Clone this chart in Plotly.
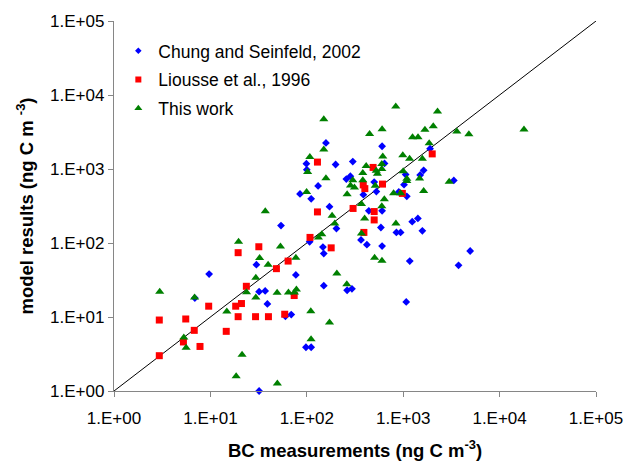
import plotly.graph_objects as go

# ---- data ----
chung_x = [9.7, 6.9, 30, 32, 37, 39, 32, 54, 60, 69, 77, 98, 111, 85, 99, 100, 111, 107, 131, 147,
           150, 150, 158, 172, 199, 203, 257, 283, 300, 262, 294, 365, 386, 420, 440, 500, 527, 604,
           587, 604, 604, 640, 850, 940, 1020, 1090, 1060, 1075, 1170, 1240, 1420, 1580, 1500, 1630,
           1900, 3350, 3750, 4950, 900]
chung_y = [38, 18, 51, 22, 22.5, 15, 1.0, 172, 10.2, 10.8, 37, 3.9, 3.9, 460, 1180, 980, 395, 104, 590, 88,
           72, 26.5, 2250, 310, 1150, 157, 730, 800, 1260, 23, 24, 110, 450, 95, 272, 665, 495, 2030,
           162, 91, 272, 1190, 139, 139, 614, 427, 840, 16, 57, 194, 215, 146, 830, 960,
           1880, 700, 50, 78, 490]

liousse_x = [2.95, 2.95, 5.55, 5.25, 6.8, 7.8, 9.6, 14.6, 18.3, 19.4, 19.4, 21, 23.6, 29.4, 31.8, 40,
             48.4, 59, 64, 74, 108, 129, 129, 179, 302, 385, 400, 391, 500, 500, 487, 610, 980, 2000]
liousse_y = [9.1, 3.0, 9.4, 4.6, 6.6, 4.0, 14, 6.4, 14, 74, 10.1, 15.2, 26, 10.1, 89, 10.1,
             45, 10.9, 57, 19.5, 119, 1240, 263, 86, 293, 610, 543, 139, 266, 205, 1050, 625, 468, 1600]

thiswork_x = [2.98, 5.3, 5.6, 6.85, 14.8, 18.5, 19.6, 21.3, 23.7, 29.6, 29.6, 32.4, 37.1, 39.7, 49.5,
              49.2, 53.3, 64.5, 74.5, 78, 77, 99.5, 102, 107.5, 110, 110.7, 132, 143, 150, 150, 158,
              172, 183, 195, 205, 260, 262, 284, 300, 312, 369, 369, 381, 381, 398, 413, 448, 505,
              525, 540, 513, 600, 604, 602, 614, 600, 637, 795, 837, 840, 940, 990, 1000, 1090,
              1165, 1250, 1425, 1480, 1580, 1630, 1680, 1860, 2050, 2270, 3600, 3000, 4800, 17900,
              600, 1090]
thiswork_y = [22, 5.3, 3.85, 18.3, 11.9, 1.58, 104, 3.1, 21.6, 33.8, 18.4, 62.5, 268, 51, 1.26,
              21.2, 90, 21.5, 21.5, 23.5, 63, 489, 911, 1450, 12, 5.0, 119, 131, 4700, 1840, 752,
              8.4, 234, 183, 38.8, 27.6, 455, 600, 703, 561, 336, 134, 883, 703, 214, 1100, 2970, 63,
              950, 865, 596, 315, 3450, 57.5, 1480, 1170, 390, 472, 7000, 184, 472, 1530, 935, 690,
              1380, 2680, 2680, 745, 1375, 505, 3400, 2230, 3780, 6000, 3200, 670, 2950, 3430,
              1000, 740]

line_x = [1, 1e5]
line_y = [1, 1e5]

tick_vals = [1, 10, 100, 1000, 10000, 100000]
tick_text = ["1.E+00", "1.E+01", "1.E+02", "1.E+03", "1.E+04", "1.E+05"]

series_names = ["Chung and Seinfeld, 2002", "Liousse et al., 1996", "This work"]

# ---- styling ----
FONT = "Liberation Sans, Arial, sans-serif"
AXIS_GRAY = "#868686"
BLUE, RED, GREEN = "#0000FF", "#FF0000", "#008000"

fig = go.Figure()

fig.add_trace(go.Scatter(x=line_x, y=line_y, mode="lines",
                         line=dict(color="black", width=1), showlegend=False,
                         hoverinfo="skip"))

fig.add_trace(go.Scatter(x=chung_x, y=chung_y, mode="markers", name=series_names[0],
                         marker=dict(symbol="diamond", size=6, color=BLUE, line=dict(width=0)),
                         showlegend=False, cliponaxis=False))
fig.add_trace(go.Scatter(x=liousse_x, y=liousse_y, mode="markers", name=series_names[1],
                         marker=dict(symbol="square", size=7, color=RED, line=dict(width=0)),
                         showlegend=False, cliponaxis=False))
fig.add_trace(go.Scatter(x=thiswork_x, y=thiswork_y, mode="markers", name=series_names[2],
                         marker=dict(symbol="triangle-up", size=8, color=GREEN, line=dict(width=0)),
                         showlegend=False, cliponaxis=False))

# legend entries (smaller markers as in the reference legend)
for name, sym, sz, col, grp in [(series_names[0], "diamond", 5, BLUE, "a"),
                                (series_names[1], "square", 6, RED, "b"),
                                (series_names[2], "triangle-up", 7, GREEN, "c")]:
    fig.add_trace(go.Scatter(x=[None], y=[None], mode="markers", name=name,
                             marker=dict(symbol=sym, size=sz, color=col, line=dict(width=0)),
                             legendgroup=grp, showlegend=True))

axis_common = dict(type="log", range=[0, 5], tickvals=tick_vals, ticktext=tick_text,
                   showline=True, linecolor=AXIS_GRAY, linewidth=1.3,
                   ticks="outside", ticklen=5, tickcolor=AXIS_GRAY, tickwidth=1.3,
                   showgrid=False, zeroline=False, mirror=False, automargin=False,
                   tickfont=dict(family=FONT, size=17, color="black"))

fig.update_layout(
    width=627, height=464,
    margin=dict(l=114, r=31, t=21, b=73),
    paper_bgcolor="white", plot_bgcolor="white",
    font=dict(family=FONT, size=17, color="black"),
    xaxis=dict(**axis_common, ticklabelstandoff=6,
               title=dict(text="<b>BC measurements (ng C m<sup>-3</sup>)</b>",
                          font=dict(family=FONT, size=18.5), standoff=17)),
    yaxis=dict(**axis_common,
               title=dict(text="<b>model results (ng C m <sup>-3</sup>)</b>",
                          font=dict(family=FONT, size=18.5), standoff=11)),
    legend=dict(x=0.009, y=0.968, xanchor="left", yanchor="top",
                bgcolor="rgba(0,0,0,0)", borderwidth=0,
                font=dict(family=FONT, size=17.5, color="black"),
                tracegroupgap=3, itemwidth=30),
    showlegend=True,
)

fig.write_html("out.html", config={"displayModeBar": False},
               post_script="document.body.style.margin='0';")
